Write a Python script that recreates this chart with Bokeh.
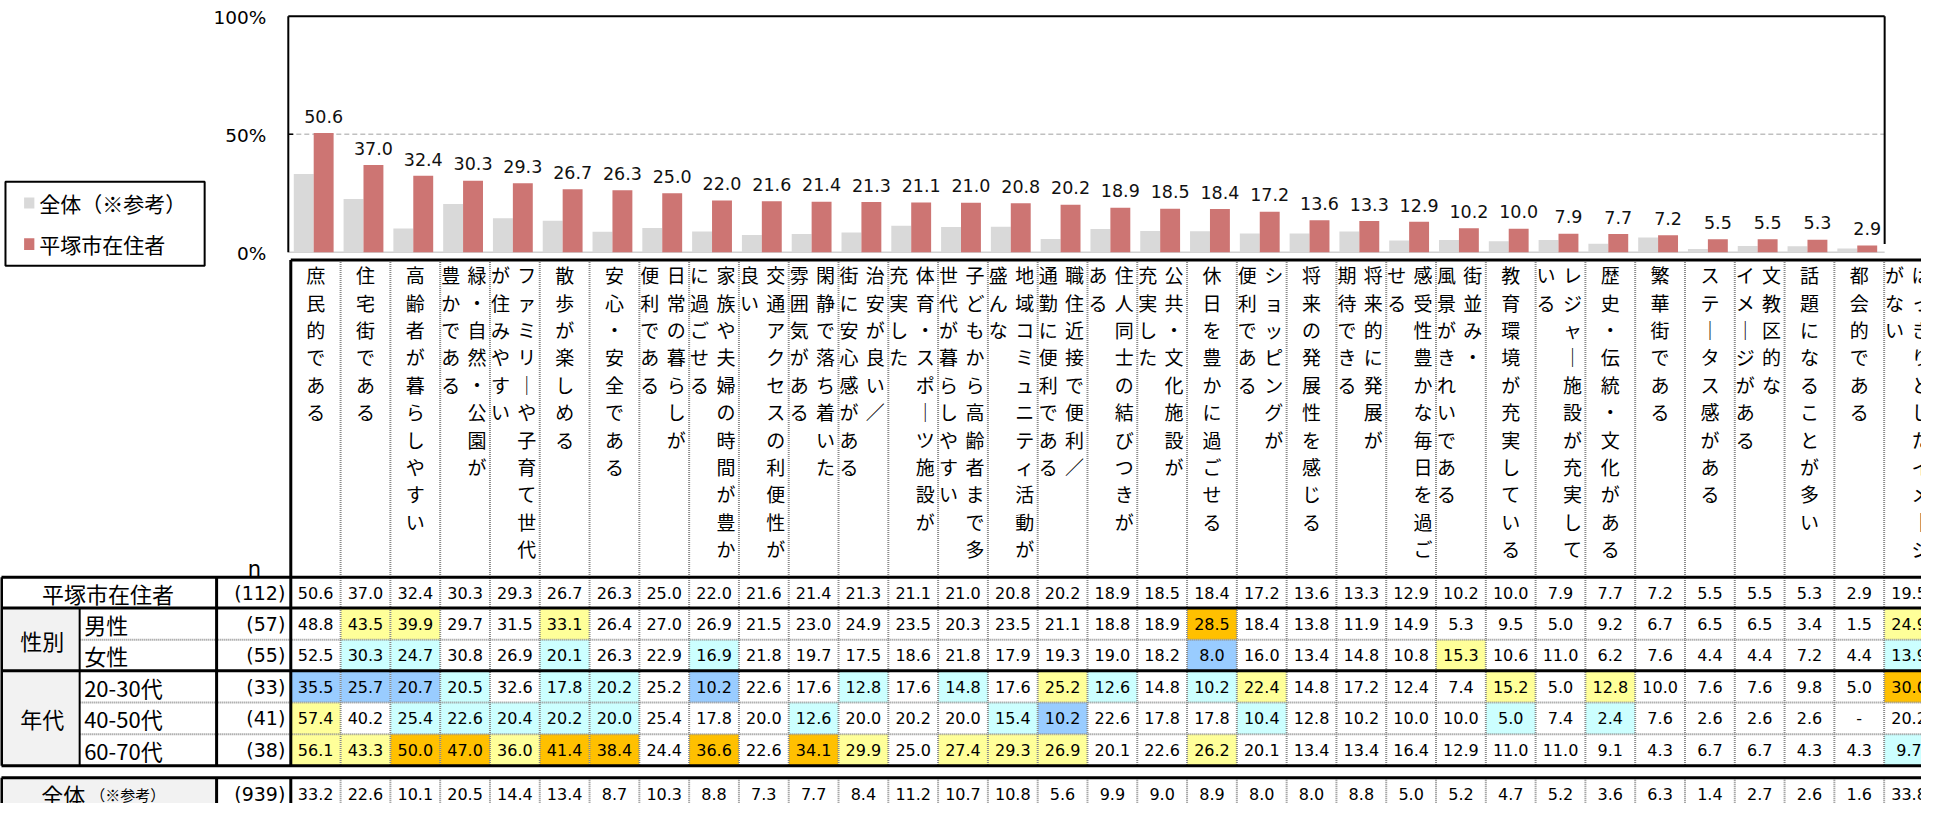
from bokeh.plotting import figure
from bokeh.models import Range1d
from bokeh.core.properties import value
from bokeh.embed import file_html
from bokeh.resources import INLINE

# ---------------- data ----------------
categories = [
    "庶民的である", "住宅街である", "高齢者が暮らしやすい", "緑・自然・公園が\n豊かである",
    "ファミリーや子育て世代\nが住みやすい", "散歩が楽しめる", "安心・安全である",
    "日常の暮らしが\n便利である", "家族や夫婦の時間が豊か\nに過ごせる", "交通アクセスの利便性が\n良い",
    "閑静で落ち着いた\n雰囲気がある", "治安が良い／\n街に安心感がある", "体育・スポーツ施設が\n充実した",
    "子どもから高齢者まで多\n世代が暮らしやすい", "地域コミュニティ活動が\n盛んな",
    "職住近接で便利／\n通勤に便利である", "住人同士の結びつきが\nある", "公共・文化施設が\n充実した",
    "休日を豊かに過ごせる", "ショッピングが\n便利である", "将来の発展性を感じる",
    "将来的に発展が\n期待できる", "感受性豊かな毎日を過ご\nせる", "街並み・\n風景がきれいである",
    "教育環境が充実している", "レジャー施設が充実して\nいる", "歴史・伝統・文化がある",
    "繁華街である", "ステータス感がある", "文教区的な\nイメージがある", "話題になることが多い",
    "都会的である", "はっきりとしたイメージ\nがない",
]
resident = [50.6, 37.0, 32.4, 30.3, 29.3, 26.7, 26.3, 25.0, 22.0, 21.6, 21.4, 21.3, 21.1, 21.0, 20.8,
            20.2, 18.9, 18.5, 18.4, 17.2, 13.6, 13.3, 12.9, 10.2, 10.0, 7.9, 7.7, 7.2, 5.5, 5.5, 5.3,
            2.9, 19.5]
male = [48.8, 43.5, 39.9, 29.7, 31.5, 33.1, 26.4, 27.0, 26.9, 21.5, 23.0, 24.9, 23.5, 20.3, 23.5,
        21.1, 18.8, 18.9, 28.5, 18.4, 13.8, 11.9, 14.9, 5.3, 9.5, 5.0, 9.2, 6.7, 6.5, 6.5, 3.4, 1.5, 24.9]
female = [52.5, 30.3, 24.7, 30.8, 26.9, 20.1, 26.3, 22.9, 16.9, 21.8, 19.7, 17.5, 18.6, 21.8, 17.9,
          19.3, 19.0, 18.2, 8.0, 16.0, 13.4, 14.8, 10.8, 15.3, 10.6, 11.0, 6.2, 7.6, 4.4, 4.4, 7.2, 4.4, 13.9]
age_20_30 = [35.5, 25.7, 20.7, 20.5, 32.6, 17.8, 20.2, 25.2, 10.2, 22.6, 17.6, 12.8, 17.6, 14.8, 17.6,
             25.2, 12.6, 14.8, 10.2, 22.4, 14.8, 17.2, 12.4, 7.4, 15.2, 5.0, 12.8, 10.0, 7.6, 7.6, 9.8, 5.0, 30.0]
age_40_50 = [57.4, 40.2, 25.4, 22.6, 20.4, 20.2, 20.0, 25.4, 17.8, 20.0, 12.6, 20.0, 20.2, 20.0, 15.4,
             10.2, 22.6, 17.8, 17.8, 10.4, 12.8, 10.2, 10.0, 10.0, 5.0, 7.4, 2.4, 7.6, 2.6, 2.6, 2.6, None, 20.2]
age_60_70 = [56.1, 43.3, 50.0, 47.0, 36.0, 41.4, 38.4, 24.4, 36.6, 22.6, 34.1, 29.9, 25.0, 27.4, 29.3,
             26.9, 20.1, 22.6, 26.2, 20.1, 13.4, 13.4, 16.4, 12.9, 11.0, 11.0, 9.1, 4.3, 6.7, 6.7, 4.3, 4.3, 9.7]
overall = [33.2, 22.6, 10.1, 20.5, 14.4, 13.4, 8.7, 10.3, 8.8, 7.3, 7.7, 8.4, 11.2, 10.7, 10.8, 5.6,
           9.9, 9.0, 8.9, 8.0, 8.0, 8.8, 5.0, 5.2, 4.7, 5.2, 3.6, 6.3, 1.4, 2.7, 2.6, 1.6, 33.8]
n_resident = 112
n_overall = 939
sub_labels = ["男性", "女性", "20-30代", "40-50代", "60-70代"]
n_sub = [57, 55, 33, 41, 38]
group_labels = ["性別", "年代"]
series_names = ["全体（※参考）", "平塚市在住者"]
tick_values = [0, 50, 100]
tick_labels = ["0%", "50%", "100%"]
n_chart = 32  # the bar chart leaves out the last item

sub_rows = [male, female, age_20_30, age_40_50, age_60_70]

# ---------------- styles / layout ----------------
JP = "Noto Sans CJK JP"
NUM = "DejaVu Sans"
GRAY = "#d9d9d9"
RED = "#cd7573"
YELLOW = "#ffff99"
ORANGE = "#ffc000"
CYAN = "#ccffff"
BLUE = "#99ccff"
HEAD = "#f2f2f2"

COL0, COLW = 295.5, 50.0
BASE, PXP = 258.3, 2.383


def X(px):
    return (px - COL0) / COLW


def Y(py):
    return (BASE - py) / PXP


W, H = 1921, 803
p = figure(width=W, height=H, x_range=Range1d(X(4), X(1933)), y_range=Range1d(Y(815), Y(4)),
           output_backend="svg", toolbar_location=None, x_axis_type=None, y_axis_type=None,
           min_border=0)
p.grid.visible = False
p.outline_line_color = None
p.background_fill_color = "white"
p.border_fill_color = "white"


def seg(lines, color, width, dash="solid"):
    p.segment(x0=[X(a) for a, b, c, d in lines], y0=[Y(b) for a, b, c, d in lines],
              x1=[X(c) for a, b, c, d in lines], y1=[Y(d) for a, b, c, d in lines],
              line_color=color, line_width=width, line_dash=dash)


def txt(xs, ys, texts, size, font=JP, align="center", baseline="middle", color="#000000"):
    p.text(x=xs, y=ys, text=texts, text_font=value(font), text_font_size=size,
           text_align=align, text_baseline=baseline, text_color=color)


# ---------------- bar chart ----------------
CL, CR = 293.0, 1896.0
seg([(CL, BASE, CR, BASE)], "#d0d0d0", 1.5)
p.segment(x0=[X(CL)], y0=[50], x1=[X(CR)], y1=[50], line_color="#c0c0c0", line_width=1.5, line_dash="5 3")

idx = list(range(n_chart))
p.vbar(x=[i + 0.26 for i in idx], top=overall[:n_chart], bottom=0, width=0.4,
       fill_color=GRAY, line_color=None)
p.vbar(x=[i + 0.66 for i in idx], top=resident[:n_chart], bottom=0, width=0.4,
       fill_color=RED, line_color=None)
txt([i + 0.66 for i in idx], [v + 17 / PXP for v in resident[:n_chart]],
    [f"{v:.1f}" for v in resident[:n_chart]], "17.5px", font=NUM, baseline="alphabetic",
    color="#111111")

# frame
p.segment(x0=[X(CL), X(CL), X(CR)], y0=[100, 0, Y(250)], x1=[X(CR), X(CL), X(CR)], y1=[100, 100, 100],
          line_color="black", line_width=2)
p.segment(x0=[X(CL)], y0=[50], x1=[X(CL + 5)], y1=[50], line_color="black", line_width=1.5)
txt([X(271)] * 3, [t + 1.5 / PXP * -1 for t in tick_values], tick_labels, "18.5px", font=NUM,
    align="right")

# legend
p.quad(left=[X(9)], right=[X(209)], top=[Y(187)], bottom=[Y(272)], fill_color="white",
       line_color="black", line_width=2)
p.quad(left=[X(27.7), X(27.7)], right=[X(38), X(38)], top=[Y(203), Y(244)], bottom=[Y(214), Y(256)],
       fill_color=[GRAY, RED], line_color=None)
txt([X(43), X(43)], [Y(208.5), Y(250)], series_names, "21px", align="left")

# ---------------- table backgrounds ----------------
p.quad(left=[X(5), X(5), X(5)], right=[X(83.5), X(83.5), X(221)],
       top=[Y(617.5), Y(681), Y(789)], bottom=[Y(681), Y(777), Y(822)], fill_color=HEAD, line_color=None)

row_tops = [617.5, 649.5, 681, 713, 745]
row_bots = [649.5, 681, 713, 745, 777]
hl, hr, ht, hb, hc = [], [], [], [], []
for r, row in enumerate(sub_rows):
    for c, v in enumerate(row):
        if v is None:
            continue
        d = round(v - resident[c], 1)
        col = ORANGE if d >= 10 else YELLOW if d >= 5 else BLUE if d <= -10 else CYAN if d <= -5 else None
        if col:
            hl.append(c)
            hr.append(c + 1)
            ht.append(Y(row_tops[r]))
            hb.append(Y(row_bots[r]))
            hc.append(col)
p.quad(left=hl, right=hr, top=ht, bottom=hb, fill_color=hc, line_color=None)

# ---------------- grid lines ----------------
RIGHT = 1960
dotted = []
for k in range(1, len(categories) + 1):
    xk = COL0 + COLW * k
    dotted.append((xk, 266, xk, 777))
    dotted.append((xk, 789, xk, 830))
for yy in (649.5, 713, 745):
    dotted.append((83.5, yy, RIGHT, yy))
seg(dotted, "#8a8a8a", 2, "1 1")

thick = [(COL0, 266, RIGHT, 266), (5, 586.5, RIGHT, 586.5), (5, 617.5, RIGHT, 617.5),
         (5, 681, RIGHT, 681), (5, 777, RIGHT, 777), (5, 789, RIGHT, 789),
         (COL0, 266, COL0, 777), (COL0, 789, COL0, 830), (221, 586.5, 221, 777), (221, 789, 221, 830),
         (5, 586.5, 5, 777), (5, 789, 5, 830)]
seg(thick, "black", 3)
seg([(83.5, 617.5, 83.5, 777)], "black", 2)

# ---------------- vertical category labels ----------------
vx, vy, vt = [], [], []
for i, lab in enumerate(categories):
    lines = lab.split("\n")
    offs = [0.0] if len(lines) == 1 else [12.0, -14.5]
    for line, off in zip(lines, offs):
        for j, ch in enumerate(line):
            vx.append(i + 0.5 + off / COLW)
            vy.append(Y(281 + j * 27.67))
            vt.append("｜" if ch == "ー" else ch)
txt(vx, vy, vt, "19px")

# ---------------- table texts ----------------
centers = [633.5, 665, 697, 729, 761]
txt([X(112)], [Y(602)], [series_names[1]], "22px")
txt([X(46), X(46)], [Y(649.5), Y(729)], group_labels, "22px")
txt([X(88)] * 5, [Y(c) for c in centers], sub_labels, "22px", align="left")
txt([X(45)], [Y(805)], ["全体"], "22px", align="left")
txt([X(94)], [Y(806)], ["（※参考）"], "15px", align="left")
txt([X(259)], [Y(578)], ["n"], "21px", font=NUM, baseline="alphabetic")
txt([X(290)] * 7, [Y(602)] + [Y(c) for c in centers] + [Y(805)],
    [f"({n_resident})"] + [f"({n})" for n in n_sub] + [f"({n_overall})"], "19px", font=NUM,
    align="right")

tx, ty, tt = [], [], []
for yc, row in zip([602] + centers + [805], [resident] + sub_rows + [overall]):
    for c, v in enumerate(row):
        tx.append(c + 0.5)
        ty.append(Y(yc))
        tt.append("-" if v is None else f"{v:.1f}")
txt(tx, ty, tt, "16px", font=NUM)

open("out.html", "w").write(file_html(p, INLINE))
